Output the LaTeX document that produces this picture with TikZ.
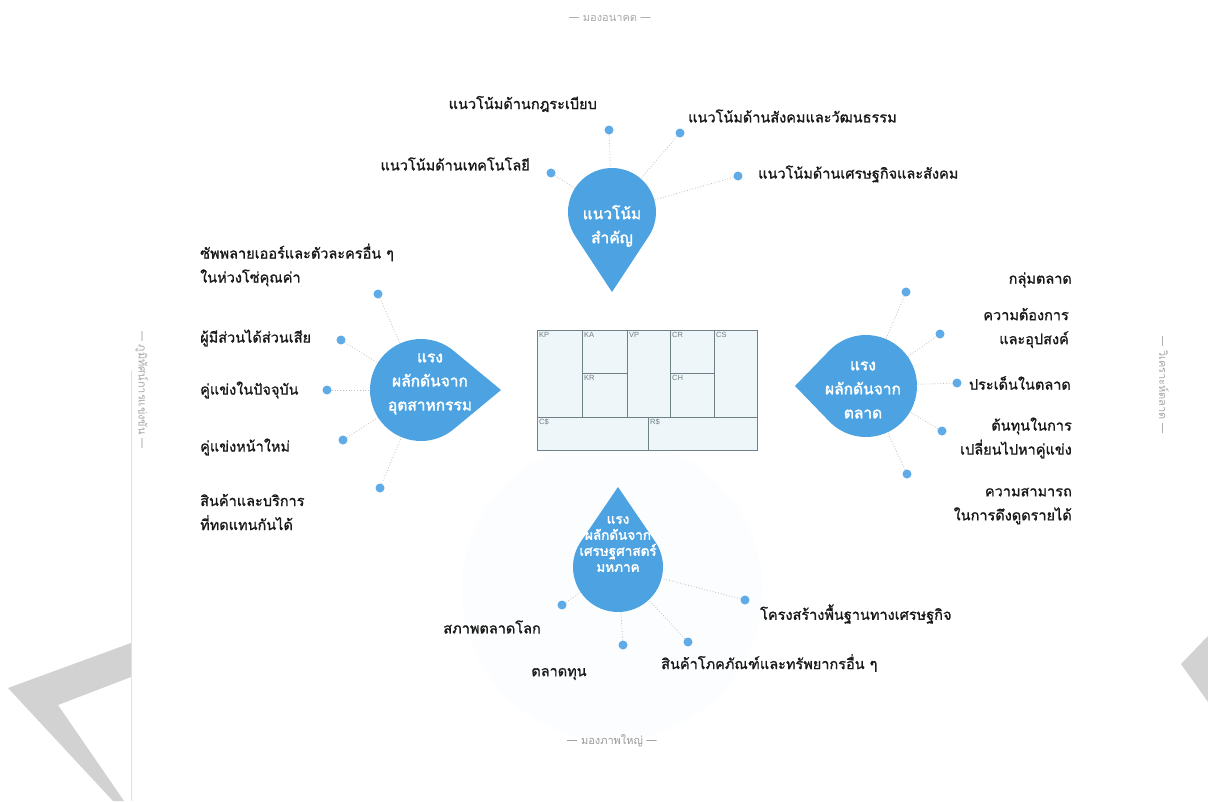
\documentclass[tikz,border=0pt]{standalone}
\usepackage{fontspec}
\newfontfamily\thai[Script=Thai]{Loma}
\newfontfamily\thaimed[Script=Thai,FakeBold=1.2]{Loma}
\newfontfamily\thaiheavy[Script=Thai,FakeBold=2.2]{Loma}
\newfontfamily\lat{Liberation Sans}
\usetikzlibrary{calc}
\definecolor{dropblue}{HTML}{4DA3E2}
\definecolor{dotblue}{HTML}{5EABE8}
\definecolor{canvasfill}{HTML}{EEF6FA}
\definecolor{canvasline}{HTML}{6F8087}
\definecolor{margingray}{HTML}{A8A8A8}
\definecolor{cornergray}{HTML}{D2D2D2}
\definecolor{pageline}{HTML}{D6E4EC}
\definecolor{tint}{HTML}{FBFDFE}

\newcommand\waterdrop[6]{%
  \pgfmathsetmacro\dropang{acos(#4/#5)}
  \fill[dropblue] ($(#2,#3)+(#6:#5)$) -- ($(#2,#3)+({#6+\dropang}:#4)$)
     arc[start angle={#6+\dropang}, delta angle={360-2*\dropang}, radius=#4] -- cycle;
  \node[dropcore=2*#4] (#1) at (#2,#3) {};
}

\begin{document}
\begin{tikzpicture}[x=1pt,y=-1pt,
  dot/.style={circle,fill=dotblue,inner sep=0pt,minimum size=9pt},
  link/.style={draw=gray!50,dotted,line width=0.8pt},
  lbl/.style={font=\thaimed\fontsize{14.5}{24}\selectfont,text=black!90,inner sep=0pt},
  droptext/.style={font=\thaiheavy\fontsize{15.5}{24}\selectfont,text=white,align=center,inner sep=0pt},
  dropcore/.style={circle,inner sep=0pt,minimum size=#1},
  cell/.style={font=\lat\fontsize{7.5}{8}\selectfont,text=canvasline,anchor=north west,inner sep=2pt},
  margin/.style={font=\thai\fontsize{11}{13}\selectfont,text=margingray,inner sep=0pt}
]
\useasboundingbox (0,0) rectangle (1208,801);
\fill[white] (0,0) rectangle (1208,801);

% corner shapes
\fill[cornergray] (131,643) -- (8,688) -- (113,801) -- (124,801) -- (58,705) -- (131,677) -- cycle;
\fill[cornergray] (1181,664) -- (1208,636) -- (1208,702) -- cycle;
\draw[pageline,line width=1pt] (131,370) -- (131,801);

% faint tint
\fill[tint] (612,590) circle[radius=150];

% margin texts
\node[margin] (mtop) at (610,18) {— มองอนาคต —};
\node[margin,text=gray!80] (mbot) at (612,741) {— มองภาพใหญ่ —};
\node[margin,rotate=-90] (mleft) at (142,390) {— ภูมิทัศน์การแข่งขัน —};
\node[margin,rotate=-90] (mright) at (1164,385) {— วิเคราะห์ตลาด —};

% canvas
\fill[canvasfill] (537,330) rectangle (757,450);
\draw[canvasline,line width=0.6pt] (537,330) rectangle (757,450);
\draw[canvasline,line width=0.6pt]
  (582,330) -- (582,417) (627,330) -- (627,417) (670,330) -- (670,417) (714,330) -- (714,417)
  (582,373) -- (627,373) (670,373) -- (714,373)
  (537,417) -- (757,417) (648,417) -- (648,450);
\node[cell] (kp) at (537,330) {KP};
\node[cell] (ka) at (582,330) {KA};
\node[cell] (vp) at (627,330) {VP};
\node[cell] (cr) at (670,330) {CR};
\node[cell] (cs) at (714,330) {CS};
\node[cell] (kr) at (582,373) {KR};
\node[cell] (ch) at (670,373) {CH};
\node[cell] (cc) at (537,417) {C\$};
\node[cell] (rr) at (648,417) {R\$};

% drops
\waterdrop{trend}{612}{212}{44}{80}{90}
\waterdrop{industry}{421}{390}{51}{80}{0}
\waterdrop{market}{866}{386}{51}{71}{180}
\waterdrop{macro}{618}{567}{45}{80}{-90}

\node[droptext] (trendtxt) at (612,226) {แนวโน้ม\\สำคัญ};
\node[droptext] (indtxt) at (430,384) {แรง\\ผลักดันจาก\\อุตสาหกรรม};
\node[droptext] (mkttxt) at (863,390) {แรง\\ผลักดันจาก\\ตลาด};
\node[droptext,font=\thaiheavy\fontsize{13.5}{16}\selectfont] (mactxt) at (618,544) {แรง\\ผลักดันจาก\\เศรษฐศาสตร์\\มหภาค};

% key trends
\node[dot] (t1) at (609,130) {};
\node[dot] (t2) at (680,133) {};
\node[dot] (t3) at (551,173) {};
\node[dot] (t4) at (738,176) {};
\node[lbl,anchor=east] (t1l) at (597,104) {แนวโน้มด้านกฎระเบียบ};
\node[lbl,anchor=west] (t2l) at (688,116) {แนวโน้มด้านสังคมและวัฒนธรรม};
\node[lbl,anchor=east] (t3l) at (530,164) {แนวโน้มด้านเทคโนโลยี};
\node[lbl,anchor=west] (t4l) at (758,174) {แนวโน้มด้านเศรษฐกิจและสังคม};
\foreach \d in {t1,t2,t3,t4} \draw[link] (\d) -- (trend);

% industry forces
\node[dot] (i1) at (378,294) {};
\node[dot] (i2) at (341,340) {};
\node[dot] (i3) at (327,390) {};
\node[dot] (i4) at (343,440) {};
\node[dot] (i5) at (380,488) {};
\node[lbl,anchor=west,align=left] (i1l) at (200,265) {ซัพพลายเออร์และตัวละครอื่น ๆ\\ในห่วงโซ่คุณค่า};
\node[lbl,anchor=west] (i2l) at (200,338) {ผู้มีส่วนได้ส่วนเสีย};
\node[lbl,anchor=west] (i3l) at (200,390) {คู่แข่งในปัจจุบัน};
\node[lbl,anchor=west] (i4l) at (200,447) {คู่แข่งหน้าใหม่};
\node[lbl,anchor=west,align=left] (i5l) at (200,512) {สินค้าและบริการ\\ที่ทดแทนกันได้};
\foreach \d in {i1,i2,i3,i4,i5} \draw[link] (\d) -- (industry);

% market forces
\node[dot] (m1) at (906,292) {};
\node[dot] (m2) at (940,334) {};
\node[dot] (m3) at (957,383) {};
\node[dot] (m4) at (942,431) {};
\node[dot] (m5) at (907,474) {};
\node[lbl,anchor=east,align=right] (m1l) at (1072,280) {กลุ่มตลาด};
\node[lbl,anchor=east,align=right] (m2l) at (1069,328) {ความต้องการ\\และอุปสงค์};
\node[lbl,anchor=east,align=right] (m3l) at (1071,383) {ประเด็นในตลาด};
\node[lbl,anchor=east,align=right] (m4l) at (1072,438) {ต้นทุนในการ\\เปลี่ยนไปหาคู่แข่ง};
\node[lbl,anchor=east,align=right] (m5l) at (1072,506) {ความสามารถ\\ในการดึงดูดรายได้};
\foreach \d in {m1,m2,m3,m4,m5} \draw[link] (\d) -- (market);

% macro-economic forces
\node[dot] (e1) at (562,605) {};
\node[dot] (e2) at (623,645) {};
\node[dot] (e3) at (688,642) {};
\node[dot] (e4) at (745,600) {};
\node[lbl,anchor=east] (e1l) at (541,627) {สภาพตลาดโลก};
\node[lbl] (e2l) at (559,674) {ตลาดทุน};
\node[lbl,anchor=west] (e3l) at (661,663) {สินค้าโภคภัณฑ์และทรัพยากรอื่น ๆ};
\node[lbl,anchor=west] (e4l) at (760,614) {โครงสร้างพื้นฐานทางเศรษฐกิจ};
\foreach \d in {e1,e2,e3,e4} \draw[link] (\d) -- (macro);

\end{tikzpicture}
\end{document}
